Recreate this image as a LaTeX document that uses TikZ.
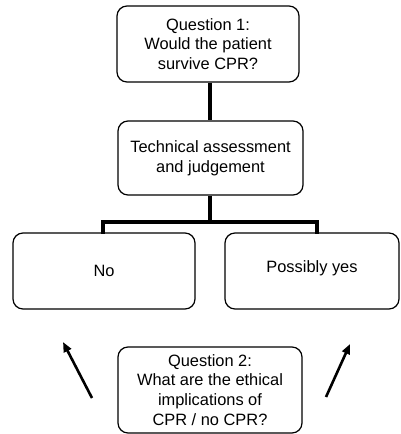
\documentclass[tikz,border=0pt]{standalone}
\usepackage{fontspec}
\setmainfont{Liberation Sans}
\usetikzlibrary{arrows.meta}
\tikzset{
  box/.style={draw, line width=1.2pt, rounded corners=10pt, rectangle,
    inner sep=0pt, align=center, font=\fontsize{16.4}{19.8}\selectfont},
  conn/.style={line width=3.2pt},
  pointer/.style={line width=2.6pt, -{Triangle[length=10pt,width=8pt]}}
}
\begin{document}
\begin{tikzpicture}[x=1pt, y=-1pt]
\useasboundingbox (0,0) rectangle (400,434);

% question boxes and outcomes
\node[box, minimum width=182pt, minimum height=76pt] (q1) at (208,44)
  {Question 1:\\Would the patient\\survive CPR?};
\node[box, minimum width=185pt, minimum height=74pt] (tech) at (210.5,158)
  {Technical assessment\\and judgement};
\node[box, minimum width=182pt, minimum height=76pt] (no) at (104,271) {No};
\node[box, minimum width=174pt, minimum height=76pt] (yes) at (312,271)
  {\raisebox{8pt}{Possibly yes}};
\node[box, minimum width=184pt, minimum height=86pt] (q2) at (210,390)
  {Question 2:\\What are the ethical\\implications of\\CPR / no CPR?};

% branching connectors
\coordinate (j) at (210,222);
\coordinate (jl) at (103,222);
\coordinate (jr) at (317,222);
\draw[conn] (q1.south -| j) -- (tech.north -| j);
\draw[conn] (tech.south -| j) -- (j);
\draw[conn, line cap=rect] (jl |- no.north) -- (jl) -- (jr) -- (jr |- yes.north);

% arrows from the second question
\coordinate (als) at (92,398);
\coordinate (ale) at (63,342);
\coordinate (ars) at (326,397);
\coordinate (are) at (350,344);
\draw[pointer] (als) -- (ale);
\draw[pointer] (ars) -- (are);
\end{tikzpicture}
\end{document}
